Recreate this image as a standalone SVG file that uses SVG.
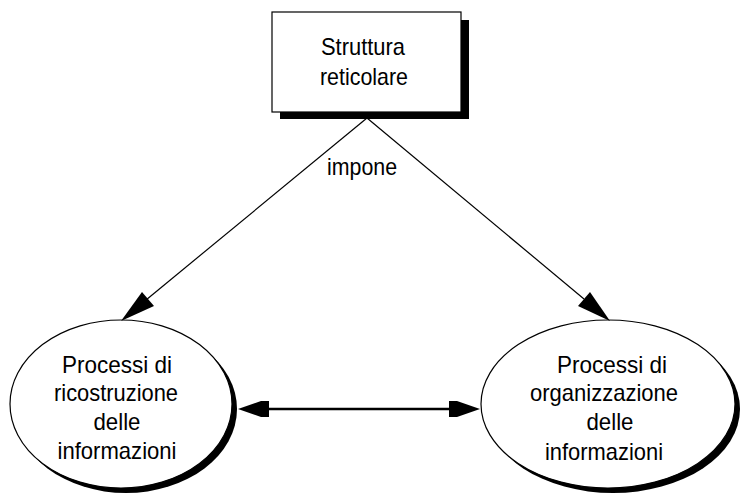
<svg xmlns="http://www.w3.org/2000/svg" width="741" height="495" viewBox="0 0 741 495">
<style>
text{font-family:"Liberation Sans",Arial,sans-serif;font-size:24px;fill:#000;text-anchor:middle}
.shape{fill:#fff;stroke:#000;stroke-width:1.2}
.shadow{fill:#000}
.line{stroke:#000;stroke-width:1.2;fill:none}
.head{fill:#000}
</style>
<rect width="741" height="495" fill="#fff"/>
<g id="node-struttura">
<rect class="shadow" x="280" y="20" width="189" height="99"/>
<rect class="shape" x="272" y="12" width="189" height="100"/>
<text x="363" y="55" textLength="84" lengthAdjust="spacingAndGlyphs">Struttura</text>
<text x="364" y="85" textLength="88" lengthAdjust="spacingAndGlyphs">reticolare</text>
</g>
<g id="node-ricostruzione">
<ellipse class="shadow" cx="126" cy="409" rx="111" ry="84"/>
<ellipse class="shape" cx="121" cy="404" rx="111" ry="84"/>
<text x="117" y="373" textLength="110" lengthAdjust="spacingAndGlyphs">Processi di</text>
<text x="116" y="401" textLength="124" lengthAdjust="spacingAndGlyphs">ricostruzione</text>
<text x="117" y="430" textLength="47" lengthAdjust="spacingAndGlyphs">delle</text>
<text x="117" y="459" textLength="119" lengthAdjust="spacingAndGlyphs">informazioni</text>
</g>
<g id="node-organizzazione">
<ellipse class="shadow" cx="613" cy="409" rx="127" ry="84"/>
<ellipse class="shape" cx="608" cy="404" rx="127" ry="84"/>
<text x="612" y="373" textLength="110" lengthAdjust="spacingAndGlyphs">Processi di</text>
<text x="604" y="401" textLength="148" lengthAdjust="spacingAndGlyphs">organizzazione</text>
<text x="610" y="430" textLength="47" lengthAdjust="spacingAndGlyphs">delle</text>
<text x="604" y="460" textLength="118" lengthAdjust="spacingAndGlyphs">informazioni</text>
</g>
<g id="connectors">
<line class="line" x1="367" y1="118" x2="146" y2="300"/>
<polygon class="head" points="121,321 142,292 154,306"/>
<line class="line" x1="367" y1="118" x2="584" y2="299"/>
<polygon class="head" points="610,321 578,306 590,292"/>
<line x1="262" y1="409" x2="456" y2="409" stroke="#000" stroke-width="2.5"/>
<polygon class="head" points="238,409 261,401 269,401 269,417 261,417"/>
<polygon class="head" points="480,409 457,401 449,401 449,417 457,417"/>
<text x="362" y="175" textLength="70" lengthAdjust="spacingAndGlyphs">impone</text>
</g>
</svg>
